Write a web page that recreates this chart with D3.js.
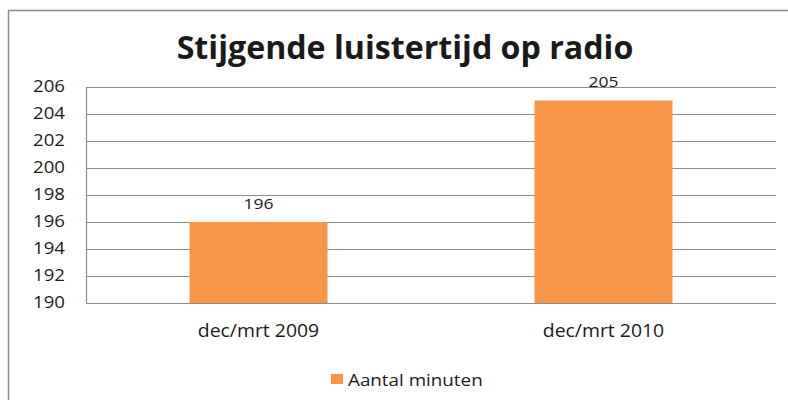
<!DOCTYPE html>
<html lang="nl">
<head>
	<script src="https://d3js.org/d3.v7.min.js"></script>
	<style>
		body { margin: 0; background: #fff; }
		text { font-family: "Open Sans", "Noto Sans", sans-serif; fill: #1a1a1a; }
	</style>
</head>
<body>
	<script type="text/javascript">

		var categories = ["dec/mrt 2009", "dec/mrt 2010"];
		var values = [196, 205];
		var yTicks = [190, 192, 194, 196, 198, 200, 202, 204, 206];
		var seriesName = "Aantal minuten";
		var title = "Stijgende luistertijd op radio";

		var svgWidth = 788;
		var svgHeight = 400;
		var plot = {left: 86, right: 776, top: 87, bottom: 303};
		var barColor = "#f79646";
		var gridColor = "#8c8c8c";

		var svg = d3.select("body")
			.append("svg")
			.attr("width", svgWidth)
			.attr("height", svgHeight);

		// the original text looks stretched sideways, so widen glyphs around their anchor
		function stretch(sel, k) {
			sel.each(function() {
				var t = d3.select(this);
				var x0 = +t.attr("x") || 0;
				t.attr("transform", "translate(" + x0 + ",0) scale(" + k + ",1) translate(" + (-x0) + ",0)");
			});
		}

		// chart frame (only top and left edges show in the picture)
		svg.append("path")
			.attr("d", "M8.5," + svgHeight + "V10.5H" + svgWidth)
			.attr("fill", "none")
			.attr("stroke", "#8c8c8c")
			.attr("stroke-width", 1.5);

		svg.append("text")
			.attr("x", 405)
			.attr("y", 59)
			.attr("text-anchor", "middle")
			.style("font-size", "33px")
			.style("font-weight", "bold")
			.text(title)
			.call(stretch, 0.975);

		var x = d3.scaleBand()
			.domain(categories)
			.range([plot.left, plot.right])
			.paddingInner(0.6)
			.paddingOuter(0.3);

		var y = d3.scaleLinear()
			.domain([190, 206])
			.range([plot.bottom, plot.top]);

		// gridlines
		svg.append("g")
			.selectAll("line")
			.data(yTicks)
			.enter()
			.append("line")
				.attr("x1", plot.left)
				.attr("x2", plot.right)
				.attr("y1", function(d) { return Math.round(y(d)) + 0.5; })
				.attr("y2", function(d) { return Math.round(y(d)) + 0.5; })
				.attr("stroke", gridColor)
				.attr("stroke-width", 1.2);

		// y axis line
		svg.append("line")
			.attr("x1", plot.left + 0.5)
			.attr("x2", plot.left + 0.5)
			.attr("y1", plot.top)
			.attr("y2", plot.bottom)
			.attr("stroke", gridColor)
			.attr("stroke-width", 1.2);

		// y tick labels
		var yAxis = d3.axisLeft(y)
			.tickValues(yTicks)
			.tickSize(0)
			.tickPadding(21);

		var yg = svg.append("g")
			.attr("transform", "translate(" + plot.left + ",0)")
			.call(yAxis);
		yg.select(".domain").remove();
		yg.selectAll("text")
			.style("font-size", "15.5px")
			.attr("fill", "#1a1a1a")
			.call(stretch, 1.2);
		yg.attr("font-family", null);

		// bars
		svg.selectAll("rect.bar")
			.data(values)
			.enter()
			.append("rect")
				.attr("class", "bar")
				.attr("x", function(d, i) { return x(categories[i]); })
				.attr("width", x.bandwidth())
				.attr("y", function(d) { return y(d); })
				.attr("height", function(d) { return y(190) - y(d); })
				.attr("fill", barColor);

		// value labels
		svg.selectAll("text.val")
			.data(values)
			.enter()
			.append("text")
				.attr("class", "val")
				.attr("x", function(d, i) { return x(categories[i]) + x.bandwidth() / 2; })
				.attr("y", function(d) { return y(d) - 13; })
				.attr("text-anchor", "middle")
				.style("font-size", "14px")
				.text(function(d) { return d; })
				.call(stretch, 1.25);

		// x axis labels
		var xAxis = d3.axisBottom(x).tickSize(0).tickPadding(21);
		var xg = svg.append("g")
			.attr("transform", "translate(0," + plot.bottom + ")")
			.call(xAxis);
		xg.select(".domain").remove();
		xg.attr("font-family", null);
		xg.selectAll("text")
			.style("font-size", "18.5px")
			.attr("fill", "#1a1a1a")
			.call(stretch, 1.05);

		// legend
		var legend = svg.append("g").attr("transform", "translate(331,374)");
		legend.append("rect")
			.attr("width", 12)
			.attr("height", 10)
			.attr("fill", barColor);
		legend.append("text")
			.attr("x", 17)
			.attr("y", 12)
			.style("font-size", "16.5px")
			.text(seriesName)
			.call(stretch, 1.14);

	</script>
</body>
</html>
